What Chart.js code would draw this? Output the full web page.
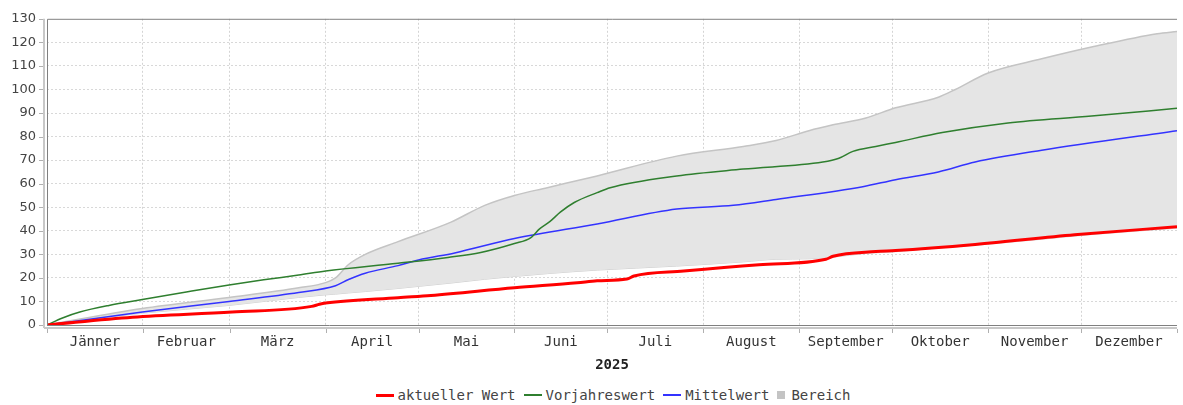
<!DOCTYPE html>
<html><head><meta charset="utf-8">
<script src="https://cdn.jsdelivr.net/npm/chart.js@4/dist/chart.umd.min.js"></script>
<style>
html,body{margin:0;padding:0;background:#fff;}
#wrap{position:relative;width:1183px;height:405px;overflow:hidden;}
#c{position:absolute;left:0;top:0;}
#legend{position:absolute;left:45px;width:1136px;top:386px;height:18px;text-align:center;font:14px "DejaVu Sans Mono",monospace;color:#444;white-space:nowrap;line-height:18px;}
.item{display:inline-flex;align-items:center;margin:0 4px;vertical-align:top;}
.sw{display:inline-block;width:18px;margin-right:4px;}
</style></head>
<body><div id="wrap"><canvas id="c" width="1186" height="380"></canvas><div id="legend"></div></div>
<script>
// ---- categories / ticks ----
const monthLabels = ['Jänner','Februar','März','April','Mai','Juni','Juli','August','September','Oktober','November','Dezember'];
const monthStarts = [0,31,59,90,120,151,181,212,243,273,304,334,365];
const yMin = 0, yMax = 130, yStep = 10;
const axisTitle = '2025';

// ---- series (day of year, value) ----
const redDays   = [0, 27.6, 59.8, 85.5, 88, 90, 113.4, 124, 151, 171.3, 177.7, 187.3, 189.6, 205.7, 230, 251.6, 253.9, 267.7, 274.1, 299.8, 331.9, 365];
const redValues = [0, 3.3, 5.5, 7.9, 8.8, 9.3, 11.6, 12.5, 15.8, 17.9, 18.8, 19.5, 20.8, 22.9, 25.6, 27.9, 29.2, 31.2, 31.6, 34.2, 38.3, 41.7];

const greenDays   = [0, 5, 10.6, 20, 30.8, 45, 58.8, 70, 81.3, 90, 113.4, 129.5, 140.1, 151, 156.2, 159.1, 162.5, 165.8, 170.3, 177.7, 181.9, 203.4, 224.9, 250.6, 255.8, 260.3, 267.7, 274.1, 289.2, 310.4, 337.4, 365];
const greenValues = [0, 3.0, 5.5, 8.3, 10.8, 14.0, 17.0, 19.2, 21.2, 22.9, 26.2, 28.7, 30.8, 34.6, 37.0, 40.8, 44.0, 47.9, 52.0, 56.2, 58.3, 63.3, 66.2, 69.2, 70.8, 73.7, 75.8, 77.5, 81.7, 85.8, 88.7, 92.0];

const blueDays   = [0, 30.8, 58.8, 81.3, 93.2, 97.4, 102.8, 113.4, 120, 131.7, 151, 177.7, 203.4, 221.7, 235.5, 263.5, 274.1, 287.9, 299.8, 321.3, 365];
const blueValues = [0, 5.5, 10.0, 13.8, 16.7, 19.3, 22.0, 25.2, 27.6, 30.6, 36.7, 42.9, 49.2, 50.8, 53.3, 58.7, 61.7, 65.0, 69.2, 74.2, 82.5];

const bandDays  = [0, 30.8, 58.8, 81.3, 90, 93.2, 97.4, 102.8, 113.4, 130.5, 141.4, 151, 161.6, 177.7, 203.4, 224.9, 235.5, 246.1, 253.9, 264.5, 274.1, 287.9, 293.4, 304, 321.3, 337.4, 358.6, 365];
const bandMax   = [0, 7.0, 11.7, 15.8, 18.0, 20.0, 25.7, 30.0, 35.4, 43.7, 50.8, 55.0, 58.3, 63.3, 71.7, 75.8, 78.3, 82.5, 85.0, 87.9, 92.2, 96.7, 100.0, 107.0, 113.0, 118.0, 123.7, 124.6];
const bandMin   = [0, 5.0, 8.3, 11.7, 12.8, 13.1, 13.6, 14.2, 15.5, 17.8, 19.4, 20.6, 21.8, 23.3, 25.0, 26.8, 27.9, 28.1, 28.8, 30.4, 31.1, 32.7, 33.2, 34.3, 36.4, 38.4, 40.5, 41.1];

const pts = (xs, ys) => xs.map((d, i) => ({x: d, y: ys[i]}));

const monthMids = monthLabels.map((_, i) => (monthStarts[i] + monthStarts[i + 1]) / 2);
const innerBounds = monthStarts.slice(1, -1);

const frame = {
  id: 'frame',
  afterDatasetsDraw(chart) {
    const {ctx, chartArea: a, scales: {x, y}} = chart;
    ctx.save();
    ctx.strokeStyle = '#c8c8c8'; ctx.lineWidth = 2;
    ctx.beginPath();
    ctx.moveTo(a.left - 3, a.top); ctx.lineTo(a.left - 3, a.bottom + 3);
    ctx.moveTo(a.left - 3, a.bottom + 3); ctx.lineTo(a.right, a.bottom + 3);
    ctx.stroke();
    ctx.strokeStyle = '#b0b0b0'; ctx.lineWidth = 1;
    ctx.beginPath();
    y.ticks.forEach(t => { const py = Math.round(y.getPixelForValue(t.value)) + 0.5; ctx.moveTo(a.left - 8, py); ctx.lineTo(a.left - 4, py); });
    monthStarts.forEach(v => { const px = Math.round(x.getPixelForValue(v)) + 0.5; ctx.moveTo(px, a.bottom + 4); ctx.lineTo(px, a.bottom + 8); });
    ctx.stroke();
    ctx.strokeStyle = '#808080'; ctx.lineWidth = 1;
    ctx.beginPath();
    ctx.moveTo(a.left + 0.5, a.bottom + 0.5); ctx.lineTo(a.left + 0.5, a.top + 0.5); ctx.lineTo(a.right, a.top + 0.5);
    ctx.moveTo(a.left, a.bottom + 0.5); ctx.lineTo(a.right, a.bottom + 0.5);
    ctx.stroke();
    ctx.restore();
  }
};

const chart = new Chart(document.getElementById('c'), {
  type: 'line',
  data: {
    datasets: [
      {label: 'aktueller Wert', data: pts(redDays, redValues), borderColor: '#ff0000', borderWidth: 3, fill: false, legendStyle: 'thick'},
      {label: 'Vorjahreswert', data: pts(greenDays, greenValues), borderColor: '#2f7f2f', borderWidth: 1.5, fill: false, legendStyle: 'line'},
      {label: 'Mittelwert', data: pts(blueDays, blueValues), borderColor: '#3333ff', borderWidth: 1.5, fill: false, legendStyle: 'line'},
      {label: 'Bereich', data: pts(bandDays, bandMax), borderColor: '#c4c4c4', borderWidth: 1.5, backgroundColor: '#e5e5e5', fill: {target: 4}, legendStyle: 'box', legendColor: '#c4c4c4'},
      {label: 'Bereich min', data: pts(bandDays, bandMin), borderColor: '#d0d0d0', borderWidth: 1, fill: false, legendStyle: 'none'}
    ]
  },
  options: {
    responsive: false,
    animation: false,
    devicePixelRatio: 1,
    layout: {padding: {top: 13, left: 0, right: 0, bottom: 0}},
    elements: {point: {radius: 0}, line: {cubicInterpolationMode: 'monotone'}},
    plugins: {legend: {display: false}, tooltip: {enabled: false}},
    scales: {
      x: {
        type: 'linear', min: 0, max: 365,
        afterBuildTicks: s => { s.ticks = [...monthStarts, ...monthMids].sort((a, b) => a - b).map(v => ({value: v})); },
        afterFit: s => { s.height = 55; },
        border: {display: false, dash: [2, 2]},
        grid: {
          drawTicks: false,
          color: c => (c.tick && innerBounds.includes(c.tick.value)) ? '#d4d4d4' : 'rgba(0,0,0,0)',
          lineWidth: 1
        },
        ticks: {
          autoSkip: false, maxRotation: 0, padding: 9,
          font: {family: 'DejaVu Sans Mono', size: 14}, color: '#333',
          callback: v => { const i = monthMids.indexOf(v); return i >= 0 ? monthLabels[i] : ''; }
        },
        title: {display: true, text: axisTitle, font: {family: 'DejaVu Sans Mono', size: 14, weight: 'bold'}, color: '#222', padding: {top: 0, bottom: 6}}
      },
      y: {
        min: yMin, max: yMax,
        afterFit: s => { s.width = 47; },
        border: {display: false, dash: [2, 2]},
        grid: {drawTicks: false, color: c => (c.tick && c.tick.value > 0 && c.tick.value < yMax) ? '#d8d8d8' : 'rgba(0,0,0,0)'},
        ticks: {stepSize: yStep, padding: 11, font: {family: 'DejaVu Sans', size: 13}, color: '#444'}
      }
    }
  },
  plugins: [frame]
});

// HTML legend built from dataset definitions
const leg = document.getElementById('legend');
chart.data.datasets.forEach(ds => {
  if (ds.legendStyle === 'none') return;
  const it = document.createElement('span'); it.className = 'item';
  const sw = document.createElement('span'); sw.className = 'sw';
  if (ds.legendStyle === 'box') { sw.style.width = '8px'; sw.style.height = '8px'; sw.style.background = ds.legendColor; sw.style.marginRight = '6px'; }
  else { sw.style.height = ds.legendStyle === 'thick' ? '3px' : '1.5px'; sw.style.background = ds.borderColor; }
  it.appendChild(sw);
  const t = document.createElement('span'); t.textContent = ds.label; it.appendChild(t);
  leg.appendChild(it);
});
</script></body></html>
